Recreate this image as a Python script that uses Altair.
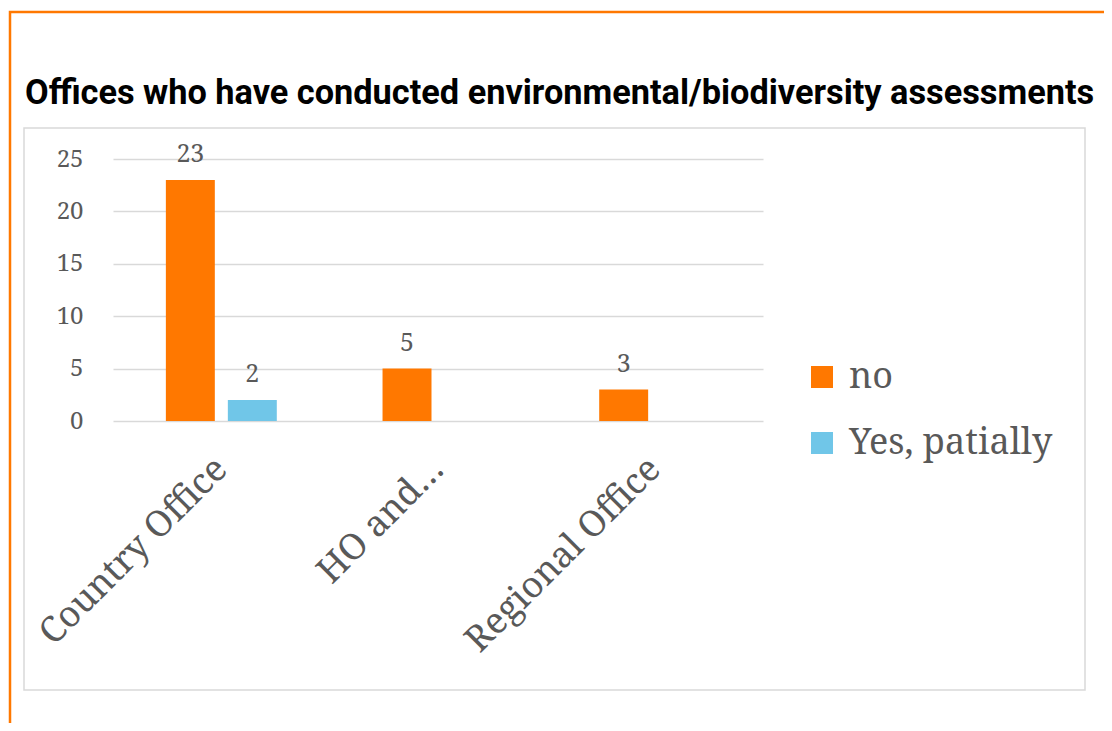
import altair as alt
import pandas as pd

categories = ["Country Office", "HO and…", "Regional Office"]
series = ["no", "Yes, patially"]
office = ["Country Office", "Country Office", "HO and…", "Regional Office"]
answer = ["no", "Yes, patially", "no", "no"]
count = [23, 2, 5, 3]
y_ticks = [0, 5, 10, 15, 20, 25]
colors = ["#FF7800", "#70C6E8"]
title_text = "Offices who have conducted environmental/biodiversity assessments"

df = pd.DataFrame({"office": office, "answer": answer, "count": count})

SERIF = "Noto Serif, DejaVu Serif, serif"
GREY = "#595959"
W, H = 650, 262

base = alt.Chart(df).encode(
    x=alt.X(
        "office:N",
        sort=categories,
        scale=alt.Scale(domain=categories, paddingInner=0.488, paddingOuter=0.244),
        axis=alt.Axis(
            title=None, labelAngle=-45, labelAlign="right", labelBaseline="middle",
            labelPadding=42, ticks=False, domain=False, grid=False, labelLimit=0,
            labelFont=SERIF, labelFontSize=36, labelColor=GREY,
        ),
    ),
    xOffset=alt.XOffset("answer:N", scale=alt.Scale(domain=series, paddingInner=0.21, paddingOuter=0)),
    y=alt.Y(
        "count:Q",
        scale=alt.Scale(domain=[0, 25], nice=False),
        axis=alt.Axis(
            values=y_ticks, title=None, ticks=False, domain=False,
            gridColor="#D9D9D9", gridWidth=1.5, labelPadding=30,
            labelFont=SERIF, labelFontSize=24, labelColor=GREY,
        ),
    ),
)

bars = base.mark_bar().encode(
    color=alt.Color(
        "answer:N",
        scale=alt.Scale(domain=series, range=colors),
        legend=alt.Legend(
            title=None, orient="none", legendX=691, legendY=200,
            symbolType="square", symbolSize=484, symbolStrokeWidth=0,
            labelFont=SERIF, labelFontSize=36, labelColor=GREY, labelLimit=0,
            rowPadding=30, labelOffset=9,
        ),
    )
)

labels = base.mark_text(baseline="alphabetic", dy=-18, font=SERIF, fontSize=25, color=GREY).encode(
    text="count:Q"
)

one = pd.DataFrame({"t": [title_text]})
orange_frame = alt.Chart(one).mark_rect(filled=False, stroke="#FF7800", strokeWidth=2.5).encode(
    x=alt.value(-103), x2=alt.value(1100), y=alt.value(-147), y2=alt.value(700)
)
grey_frame = alt.Chart(one).mark_rect(filled=False, stroke="#D9D9D9", strokeWidth=1.5).encode(
    x=alt.value(-89), x2=alt.value(972), y=alt.value(-31), y2=alt.value(531)
)
title = alt.Chart(one).mark_text(
    align="left", baseline="alphabetic", font="Roboto", fontWeight="bold", fontSize=34.3, color="#000000"
).encode(text="t:N", x=alt.value(-88), y=alt.value(-55))

chart = alt.layer(orange_frame, grey_frame, bars, labels, title).properties(
    width=W, height=H,
    autosize=alt.AutoSizeParams(type="none"),
    padding={"left": 105, "top": 151, "right": 341, "bottom": 302},
    background="white",
).configure_view(strokeWidth=0)

chart.save("out.html", embed_options={"renderer": "svg", "actions": False})
